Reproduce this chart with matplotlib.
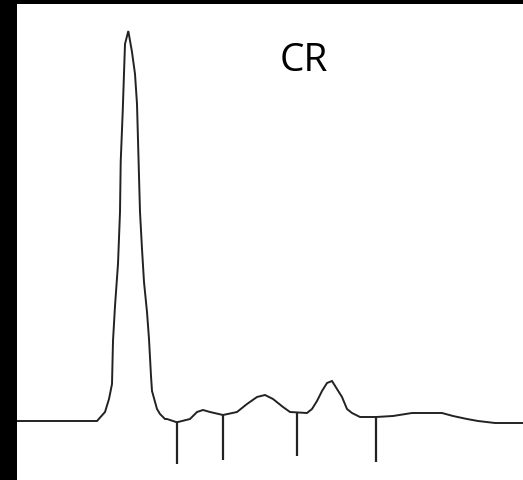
import matplotlib
matplotlib.use("Agg")
import matplotlib.pyplot as plt
from matplotlib.patches import Rectangle

# Densitometry trace (position, signal above baseline)
trace_x = [17, 95, 97, 105, 109, 112, 113, 115, 118, 120, 120.7, 122.7, 125, 128.3,
           132, 135, 137, 139, 140, 142, 144, 147, 149, 151, 152, 157, 160, 165, 167,
           176, 178, 190, 197, 203, 210, 223, 237, 247, 257, 265, 273, 283, 290,
           307, 312, 317, 322, 327, 332, 337, 342, 347, 352, 360, 376, 393, 412,
           442, 453, 467, 478, 495, 523]
trace_y = [0, 0, 0, 9, 22, 37, 80, 115, 157, 209, 259, 309, 377, 390,
           369, 347, 317, 245, 209, 172, 139, 109, 82, 45, 30, 12, 7, 2, 2,
           -1, -1, 2, 9, 11, 9, 6, 9, 17, 24, 26, 22, 14, 9,
           8, 12, 20, 30, 38, 40, 32, 24, 12, 8, 4, 4, 5, 8,
           8, 5, 2, 0, -2, -2]

# Fraction separators: position, top (on trace), bottom
sep_x = [177, 223, 297, 376]
sep_top = [-1, 6, 8, 4]
sep_bottom = [-43, -39, -35, -41]

title = "CR"

W, H = 523, 481
fig = plt.figure(figsize=(W / 100, H / 100), dpi=100)
fig.patch.set_facecolor("white")
ax = fig.add_axes([0, 0, 1, 1])
ax.set_xlim(0, W)
ax.set_ylim(-59, 422)
ax.axis("off")

ax.plot(trace_x, trace_y, color="#222222", lw=1.4, solid_joinstyle="miter")
ax.vlines(sep_x, sep_bottom, sep_top, color="#222222", lw=1.6)

ax.text(304, 422 - 61, title, ha="center", va="center", fontsize=28,
        family="Open Sans", color="black")

# black frame strips at left and top
fig.patches.append(Rectangle((0, 0), 17 / W, 1, transform=fig.transFigure,
                             facecolor="black", edgecolor="none", zorder=10))
fig.patches.append(Rectangle((0, 1 - 5 / H), 1, 5 / H, transform=fig.transFigure,
                             facecolor="black", edgecolor="none", zorder=10))

fig.savefig("out.png", dpi=100, facecolor="white")
